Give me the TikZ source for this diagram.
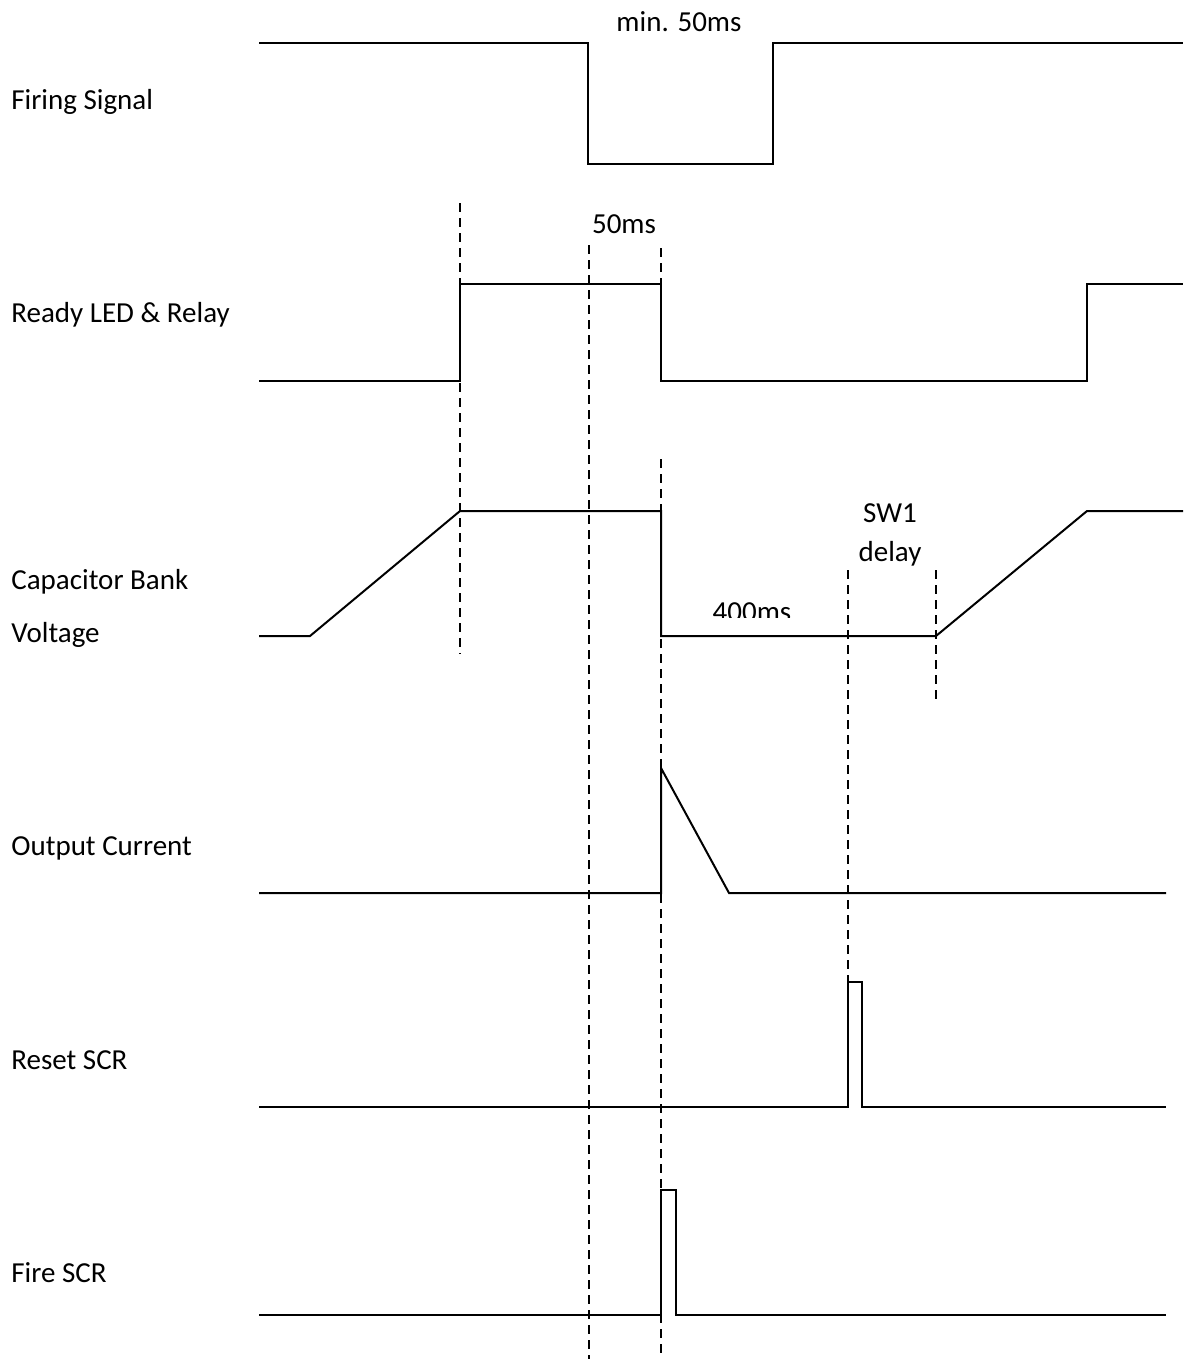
\documentclass[tikz,border=0pt]{standalone}
\usepackage{fontspec}
\setmainfont{Carlito}
\begin{document}
\begin{tikzpicture}[x=0.5pt,y=-0.5pt,
  wave/.style={line width=1pt,line join=miter},
  guide/.style={line width=1pt,dash pattern=on 4.5pt off 3pt},
  lbl/.style={anchor=base west,inner sep=0pt,font=\fontsize{14.5}{17}\selectfont},
  clbl/.style={anchor=base,inner sep=0pt,font=\fontsize{14.5}{17}\selectfont}]
\useasboundingbox (0,0) rectangle (1183,1359);
% labels
\node[lbl] (l1) at (11,110) {Firing Signal};
\node[lbl] (l2) at (11,322) {Ready LED \& Relay};
\node[lbl] (l3a) at (11,589) {Capacitor Bank};
\node[lbl] (l3b) at (11,642) {Voltage};
\node[lbl] (l4) at (11,855) {Output Current};
\node[lbl] (l5) at (11,1069) {Reset SCR};
\node[lbl] (l6) at (11,1282) {Fire SCR};
\node[clbl] (t1) at (679,32) {min. 50ms};
\node[clbl] (t2) at (624,233) {50ms};
\node[clbl] (t3) at (890,522) {SW1};
\node[clbl] (t4) at (890,561) {delay};
\begin{scope}
\clip (700,560) rectangle (800,617);
\node[clbl] (t5) at (752,621) {400ms};
\end{scope}
% guides
\draw[guide] (460,203) -- (460,654);
\draw[guide] (589,245) -- (589,1359);
\draw[guide] (661,248) -- (661,381);
\draw[guide] (661,459) -- (661,1359);
\draw[guide] (848,570) -- (848,982);
\draw[guide] (936,570) -- (936,700);
% waveforms
\draw[wave] (259,43) -- (588,43) -- (588,164) -- (773,164) -- (773,43) -- (1183,43);
\draw[wave] (259,381) -- (460,381) -- (460,284) -- (661,284) -- (661,381) -- (1087,381) -- (1087,284) -- (1183,284);
\draw[wave] (259,636) -- (310,636) -- (460,511) -- (661,511) -- (661,636) -- (936,636) -- (1087,511) -- (1183,511);
\draw[wave] (259,893) -- (661,893) -- (661,768) -- (729,893) -- (1166,893);
\draw[wave] (259,1107) -- (848,1107) -- (848,982) -- (862,982) -- (862,1107) -- (1166,1107);
\draw[wave] (259,1315) -- (661,1315) -- (661,1190) -- (676,1190) -- (676,1315) -- (1166,1315);
\end{tikzpicture}
\end{document}
